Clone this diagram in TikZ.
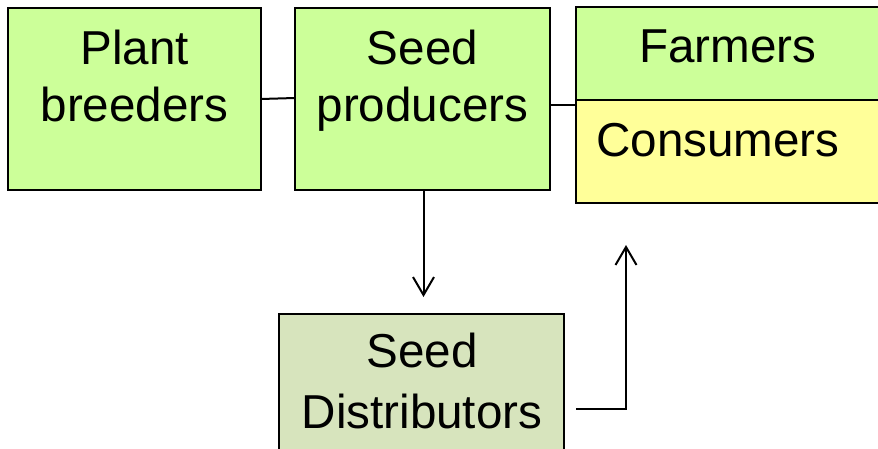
\documentclass[tikz,border=0pt]{standalone}
\usepackage{fontspec}
\setmainfont{Liberation Sans}
\usetikzlibrary{arrows.meta}
\definecolor{grn}{HTML}{CCFF99}
\definecolor{ylw}{HTML}{FFFF99}
\definecolor{olv}{HTML}{D7E4BD}
\begin{document}
\begin{tikzpicture}[x=1pt,y=-1pt,
  box/.style={draw=black,line width=2pt,inner sep=0pt,outer sep=0pt},
  lbl/.style={font=\fontsize{47.6}{57}\selectfont,anchor=base,inner sep=0pt},
  conn/.style={line width=2pt,black},
  arr/.style={conn,-{Straight Barb[length=18pt,width=21pt,line width=2pt]}}]
\useasboundingbox (0,0) rectangle (878,449);
\node[box,fill=grn,minimum width=253pt,minimum height=182pt] (pb) at (134.5,99) {};
\node[box,fill=grn,minimum width=255pt,minimum height=182pt] (sp) at (422.5,99) {};
\node[box,fill=grn,minimum width=324pt,minimum height=93pt] (fa) at (738,53.5) {};
\node[box,fill=ylw,minimum width=324pt,minimum height=103pt] (co) at (738,151.5) {};
\node[box,fill=olv,minimum width=285pt,minimum height=156pt] (sd) at (421.5,392) {};
\node[lbl] (t1) at (134.5,65) {Plant};
\node[lbl] (t2) at (134.5,122) {breeders};
\node[lbl] (t3) at (422.5,65) {Seed};
\node[lbl] (t4) at (422.5,122) {producers};
\node[lbl] (t5) at (728,63) {Farmers};
\node[lbl,anchor=base west] (t6) at (596,157) {Consumers};
\node[lbl] (t7) at (422,367) {Seed};
\node[lbl] (t8) at (422,428) {Distributors};
\draw[conn] (pb.east) -- ([yshift=1pt]sp.west);
\draw[conn] ([yshift=-6pt]sp.east) -- ([yshift=-6pt]sp.east -| co.west);
\coordinate (d1) at (423.5,297);
\draw[arr] ([xshift=1pt]sp.south) -- (d1);
\coordinate (u0) at (576,409);
\coordinate (u1) at (626,245);
\draw[arr] (u0) -| (u1);
\end{tikzpicture}
\end{document}
